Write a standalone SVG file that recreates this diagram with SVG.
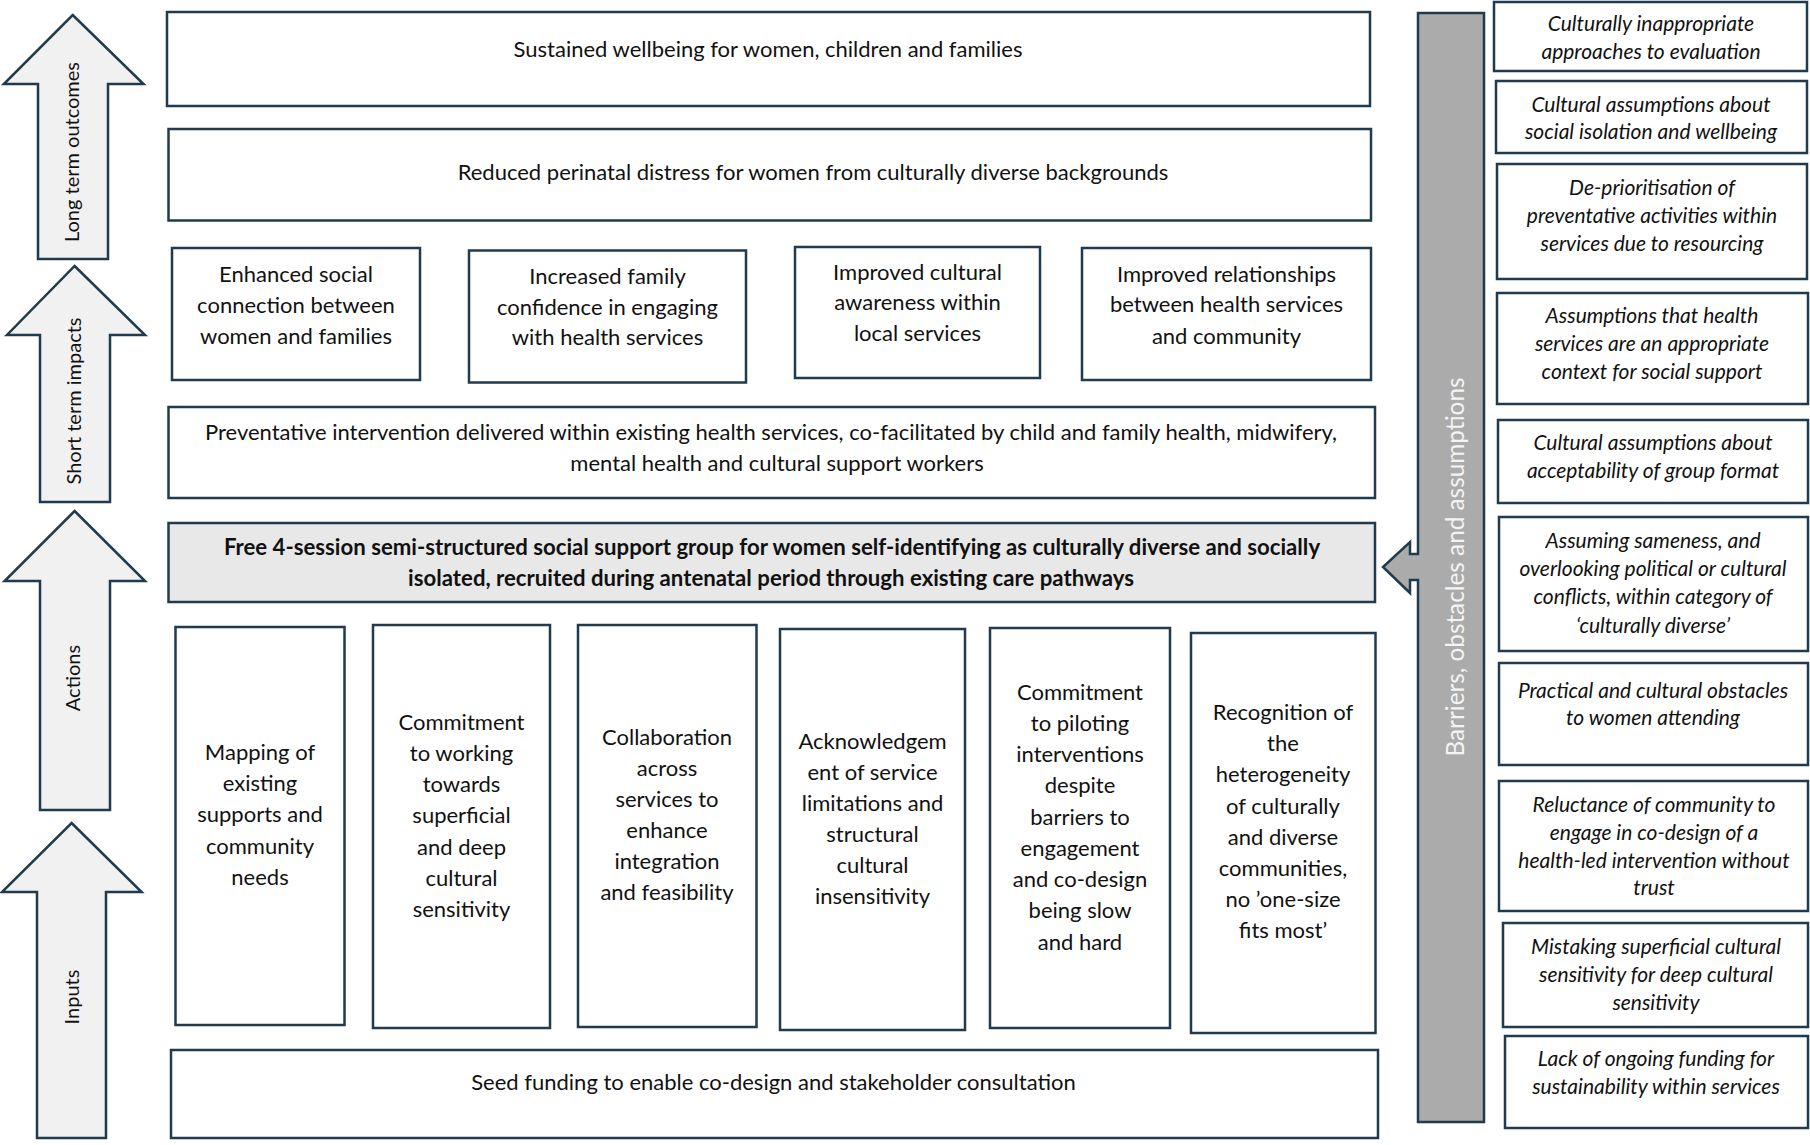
<svg xmlns="http://www.w3.org/2000/svg" width="1810" height="1145" viewBox="0 0 1810 1145">
<style>
.bx{fill:#ffffff;stroke:#1f3b4d;stroke-width:2.5}
.gb{fill:#e8e8e8;stroke:#1f3b4d;stroke-width:2.5}
.ar{fill:#f1f1f1;stroke:#1f3b4d;stroke-width:2.5;stroke-linejoin:miter}
.t{font-family:Lato,"Liberation Sans",sans-serif;font-size:22px;fill:#111111;text-anchor:middle}
.tb{font-family:Lato,"Liberation Sans",sans-serif;font-size:22.2px;font-weight:bold;fill:#111111;text-anchor:middle}
.ti{font-family:Lato,"Liberation Sans",sans-serif;font-size:21px;font-style:italic;fill:#111111;text-anchor:middle}
.al{font-family:Lato,"Liberation Sans",sans-serif;font-size:20px;fill:#111111;text-anchor:middle}
.bl{font-family:Lato,"Liberation Sans",sans-serif;font-size:24.3px;fill:#f4f4f4;text-anchor:middle}
</style>
<rect width="1810" height="1145" fill="#ffffff"/>
<g id="connectors">
<path class="ar" d="M72.7,15 L143.5,84 L108,84 L108,259 L38,259 L38,84 L3.8,84 Z"/>
<path class="ar" d="M74.6,266 L145,335 L110,335 L110,502 L40,502 L40,335 L7,335 Z"/>
<path class="ar" d="M74.6,511 L145,581 L110,581 L110,810 L40,810 L40,581 L4.6,581 Z"/>
<path class="ar" d="M71.6,823 L141.6,892 L106,892 L106,1138 L37,1138 L37,892 L2,892 Z"/>
<path d="M1418,13 L1484,13 L1484,1122 L1418,1122 L1418,580 L1410,580 L1410,593 L1383,567 L1410,542 L1410,554 L1418,554 Z" fill="#ababab" stroke="#1f3b4d" stroke-width="2.5"/>
<text class="al" transform="translate(79,152) rotate(-90)">Long term outcomes</text>
<text class="al" transform="translate(81,401) rotate(-90)">Short term impacts</text>
<text class="al" transform="translate(80,678) rotate(-90)">Actions</text>
<text class="al" transform="translate(79,997) rotate(-90)">Inputs</text>
<text class="bl" transform="translate(1464,567) rotate(-90)">Barriers, obstacles and assumptions</text>
</g>
<g id="nA"><rect class="bx" x="167" y="12" width="1203" height="94"/><text class="t" x="768" y="57">Sustained wellbeing for women, children and families</text></g>
<g id="nB"><rect class="bx" x="168.5" y="129" width="1202.5" height="91.5"/><text class="t" x="813" y="180">Reduced perinatal distress for women from culturally diverse backgrounds</text></g>
<g id="nC1"><rect class="bx" x="172" y="248" width="248" height="132"/><text class="t" x="296" y="282">Enhanced social</text><text class="t" x="296" y="313">connection between</text><text class="t" x="296" y="344">women and families</text></g>
<g id="nC2"><rect class="bx" x="469" y="250.5" width="277" height="132"/><text class="t" x="607.5" y="284">Increased family</text><text class="t" x="607.5" y="315">confidence in engaging</text><text class="t" x="607.5" y="345">with health services</text></g>
<g id="nC3"><rect class="bx" x="795" y="247" width="245" height="131"/><text class="t" x="917.5" y="280">Improved cultural</text><text class="t" x="917.5" y="310">awareness within</text><text class="t" x="917.5" y="341">local services</text></g>
<g id="nC4"><rect class="bx" x="1082" y="248" width="289" height="132"/><text class="t" x="1226.5" y="282">Improved relationships</text><text class="t" x="1226.5" y="312">between health services</text><text class="t" x="1226.5" y="344">and community</text></g>
<g id="nD"><rect class="bx" x="168.5" y="407" width="1206.5" height="91"/><text class="t" x="771" y="440">Preventative intervention delivered within existing health services, co-facilitated by child and family health, midwifery,</text><text class="t" x="777" y="471">mental health and cultural support workers</text></g>
<g id="nE"><rect class="gb" x="168.5" y="523" width="1206.5" height="79"/><text class="tb" x="772" y="555">Free 4-session semi-structured social support group for women self-identifying as culturally diverse and socially</text><text class="tb" x="771" y="586">isolated, recruited during antenatal period through existing care pathways</text></g>
<g id="nF1"><rect class="bx" x="175.5" y="627" width="169" height="398"/><text class="t" x="260" y="760">Mapping of</text><text class="t" x="260" y="791">existing</text><text class="t" x="260" y="822">supports and</text><text class="t" x="260" y="854">community</text><text class="t" x="260" y="885">needs</text></g>
<g id="nF2"><rect class="bx" x="373" y="625" width="177" height="403"/><text class="t" x="461.5" y="730">Commitment</text><text class="t" x="461.5" y="761">to working</text><text class="t" x="461.5" y="792">towards</text><text class="t" x="461.5" y="823">superficial</text><text class="t" x="461.5" y="855">and deep</text><text class="t" x="461.5" y="886">cultural</text><text class="t" x="461.5" y="917">sensitivity</text></g>
<g id="nF3"><rect class="bx" x="578" y="625" width="178.5" height="402"/><text class="t" x="667" y="745">Collaboration</text><text class="t" x="667" y="776">across</text><text class="t" x="667" y="807">services to</text><text class="t" x="667" y="838">enhance</text><text class="t" x="667" y="869">integration</text><text class="t" x="667" y="900">and feasibility</text></g>
<g id="nF4"><rect class="bx" x="780" y="629" width="185" height="401"/><text class="t" x="872.5" y="749">Acknowledgem</text><text class="t" x="872.5" y="780">ent of service</text><text class="t" x="872.5" y="811">limitations and</text><text class="t" x="872.5" y="842">structural</text><text class="t" x="872.5" y="873">cultural</text><text class="t" x="872.5" y="904">insensitivity</text></g>
<g id="nF5"><rect class="bx" x="990" y="628" width="180" height="400"/><text class="t" x="1080" y="700">Commitment</text><text class="t" x="1080" y="731">to piloting</text><text class="t" x="1080" y="762">interventions</text><text class="t" x="1080" y="793">despite</text><text class="t" x="1080" y="825">barriers to</text><text class="t" x="1080" y="856">engagement</text><text class="t" x="1080" y="887">and co-design</text><text class="t" x="1080" y="918">being slow</text><text class="t" x="1080" y="950">and hard</text></g>
<g id="nF6"><rect class="bx" x="1191" y="633" width="184.5" height="400"/><text class="t" x="1283" y="720">Recognition of</text><text class="t" x="1283" y="751">the</text><text class="t" x="1283" y="782">heterogeneity</text><text class="t" x="1283" y="814">of culturally</text><text class="t" x="1283" y="845">and diverse</text><text class="t" x="1283" y="876">communities,</text><text class="t" x="1283" y="907">no ’one-size</text><text class="t" x="1283" y="938">fits most’</text></g>
<g id="nG"><rect class="bx" x="171" y="1050" width="1207" height="88"/><text class="t" x="773.5" y="1090">Seed funding to enable co-design and stakeholder consultation</text></g>
<g id="nR1"><rect class="bx" x="1494" y="2" width="313" height="69"/><text class="ti" x="1651" y="31">Culturally inappropriate</text><text class="ti" x="1651" y="59">approaches to evaluation</text></g>
<g id="nR2"><rect class="bx" x="1496" y="81" width="311" height="72"/><text class="ti" x="1651" y="112">Cultural assumptions about</text><text class="ti" x="1651" y="139">social isolation and wellbeing</text></g>
<g id="nR3"><rect class="bx" x="1497" y="164" width="310" height="115"/><text class="ti" x="1652" y="195">De-prioritisation of</text><text class="ti" x="1652" y="223">preventative activities within</text><text class="ti" x="1652" y="251">services due to resourcing</text></g>
<g id="nR4"><rect class="bx" x="1497" y="293" width="311" height="111"/><text class="ti" x="1652" y="323">Assumptions that health</text><text class="ti" x="1652" y="351">services are an appropriate</text><text class="ti" x="1652" y="379">context for social support</text></g>
<g id="nR5"><rect class="bx" x="1498" y="420" width="310" height="83"/><text class="ti" x="1653" y="450">Cultural assumptions about</text><text class="ti" x="1653" y="478">acceptability of group format</text></g>
<g id="nR6"><rect class="bx" x="1499" y="517" width="309" height="134"/><text class="ti" x="1653" y="548">Assuming sameness, and</text><text class="ti" x="1653" y="576">overlooking political or cultural</text><text class="ti" x="1653" y="604">conflicts, within category of</text><text class="ti" x="1653" y="633">‘culturally diverse’</text></g>
<g id="nR7"><rect class="bx" x="1499" y="663" width="309" height="102"/><text class="ti" x="1653" y="698">Practical and cultural obstacles</text><text class="ti" x="1653" y="725">to women attending</text></g>
<g id="nR8"><rect class="bx" x="1499" y="781" width="309" height="130"/><text class="ti" x="1654" y="812">Reluctance of community to</text><text class="ti" x="1654" y="840">engage in co-design of a</text><text class="ti" x="1654" y="868">health-led intervention without</text><text class="ti" x="1654" y="895">trust</text></g>
<g id="nR9"><rect class="bx" x="1503" y="923" width="305" height="104"/><text class="ti" x="1656" y="954">Mistaking superficial cultural</text><text class="ti" x="1656" y="982">sensitivity for deep cultural</text><text class="ti" x="1656" y="1010">sensitivity</text></g>
<g id="nR10"><rect class="bx" x="1505" y="1036" width="303" height="92"/><text class="ti" x="1656" y="1066">Lack of ongoing funding for</text><text class="ti" x="1656" y="1094">sustainability within services</text></g>
</svg>
